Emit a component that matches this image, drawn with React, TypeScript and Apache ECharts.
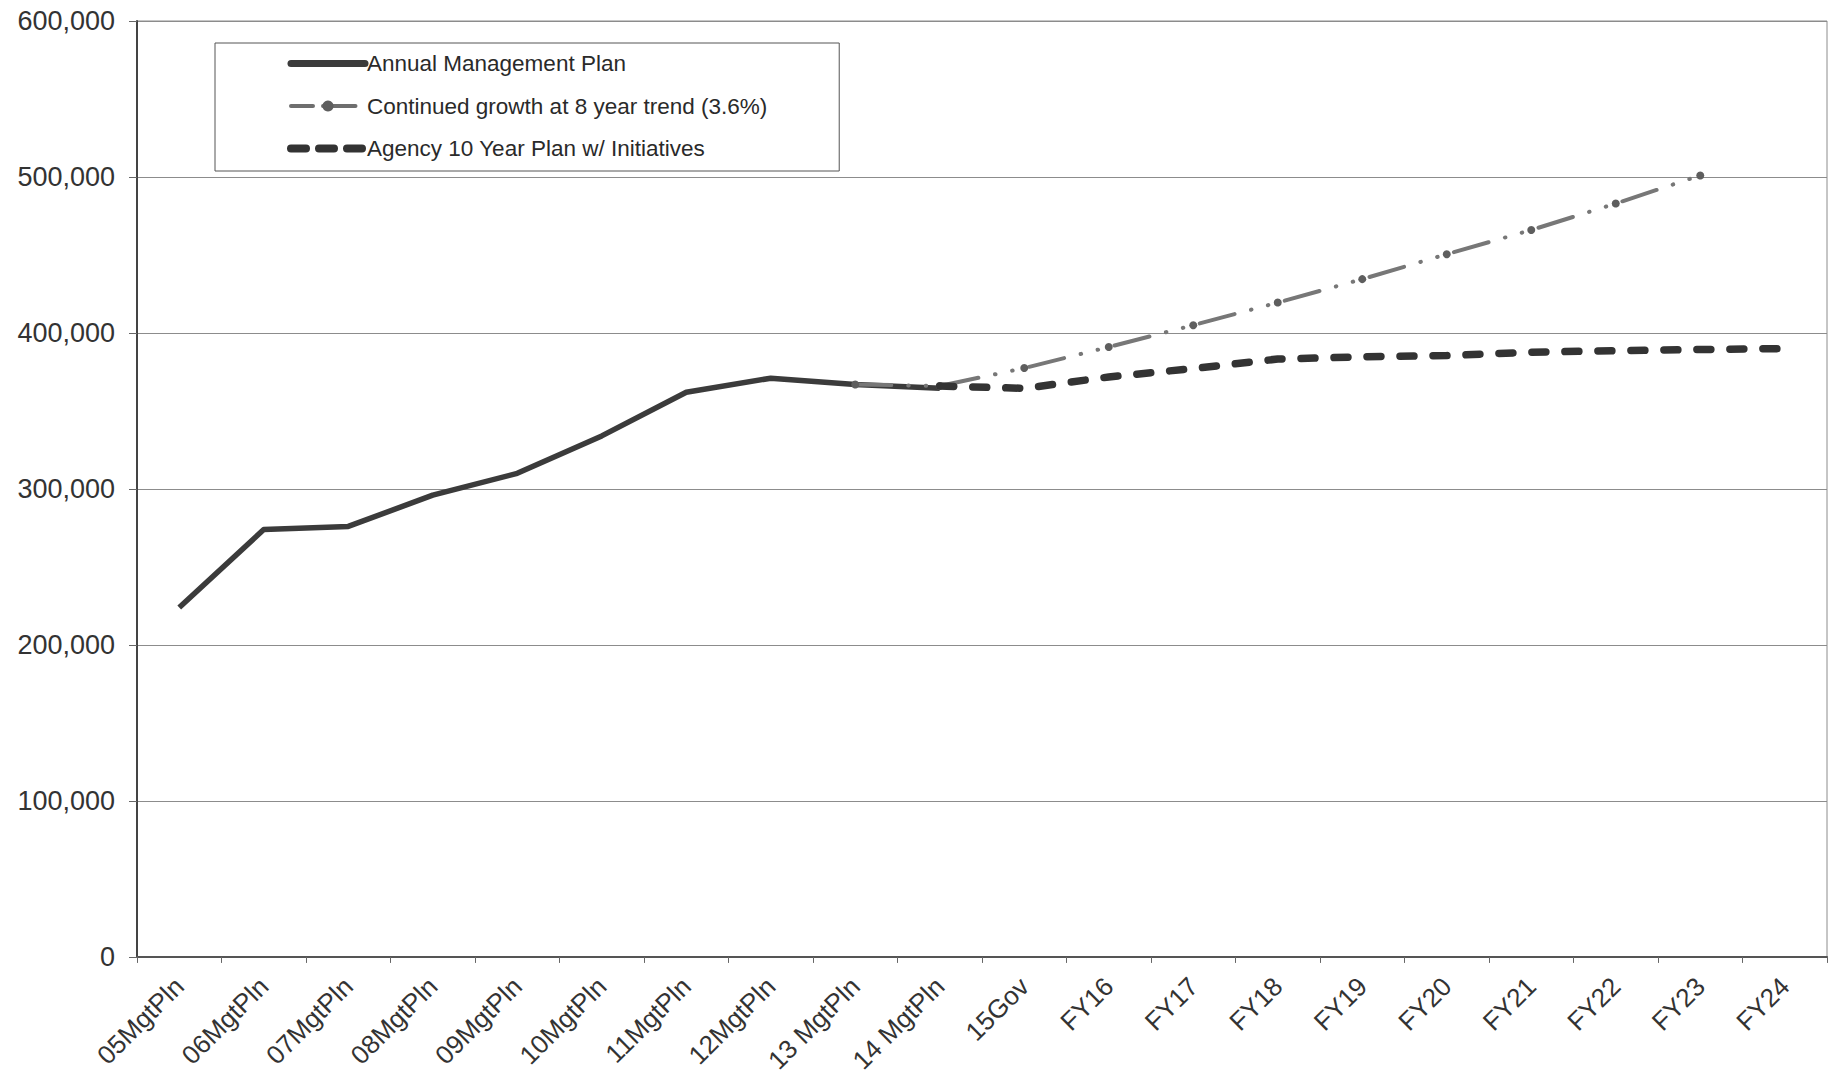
import React, { useEffect, useRef } from "react";
import * as echarts from "echarts";

const categories = [
  "05MgtPln", "06MgtPln", "07MgtPln", "08MgtPln", "09MgtPln", "10MgtPln",
  "11MgtPln", "12MgtPln", "13 MgtPln", "14 MgtPln", "15Gov", "FY16", "FY17",
  "FY18", "FY19", "FY20", "FY21", "FY22", "FY23", "FY24",
];

const annualPlan = [
  224000, 274000, 276000, 296000, 310000, 334000, 362000, 371000, 367000, 364500,
  null, null, null, null, null, null, null, null, null, null,
];

const growthTrend = [
  null, null, null, null, null, null, null, null, 367000, 366000,
  377500, 391000, 405000, 419500, 434500, 450500, 466000, 483000, 501000, null,
];

const agencyPlan = [
  null, null, null, null, null, null, null, null, null, 366000,
  364500, 371800, 377200, 383300, 384700, 385500, 387700, 388600, 389400, 390000,
];

const seriesNames = [
  "Annual Management Plan",
  "Continued growth at 8 year trend (3.6%)",
  "Agency 10 Year Plan w/ Initiatives",
];

const yTicks = { min: 0, max: 600000, interval: 100000 };

const FONT = "'Liberation Sans', Arial, Helvetica, sans-serif";

export default function App() {
  const ref = useRef<HTMLDivElement>(null);

  useEffect(() => {
    if (!ref.current) return;
    const chart = echarts.init(ref.current, undefined, { renderer: "svg" });
    const growthDash = [36, 17, 0.5, 17, 0.5, 17];
    const agencyDash = [14, 19];
    chart.setOption({
      animation: false,
      backgroundColor: "#ffffff",
      textStyle: { fontFamily: FONT },
      grid: {
        left: 137,
        right: 4,
        top: 21,
        bottom: 113,
        show: true,
        borderColor: "#8c8c8c",
        borderWidth: 1,
        backgroundColor: "transparent",
      },
      legend: {
        show: true,
        orient: "vertical",
        left: 215,
        top: 43,
        padding: [9, 72, 11, 72],
        itemGap: 19.5,
        itemWidth: 74,
        itemHeight: 14,
        borderColor: "#555",
        borderWidth: 1,
        backgroundColor: "#ffffff",
        textStyle: { fontSize: 22.5, color: "#2a2a2a", fontFamily: FONT, padding: [0, 0, 0, -3] },
        data: [
          {
            name: seriesNames[0],
            lineStyle: { width: 7, color: "#3b3b3b", type: "solid", cap: "round" },
            itemStyle: { color: "#3b3b3b", opacity: 0 },
          },
          {
            name: seriesNames[1],
            lineStyle: { width: 4, color: "#6e6e6e", type: [22, 10, 0.5, 10], cap: "round" },
            itemStyle: { color: "#5e5e5e" },
          },
          {
            name: seriesNames[2],
            lineStyle: { width: 8, color: "#333333", type: [15, 13], cap: "round" },
            itemStyle: { color: "#333333", opacity: 0 },
          },
        ],
      },
      xAxis: {
        type: "category",
        data: categories,
        boundaryGap: true,
        axisLine: { show: true, lineStyle: { color: "#555", width: 2 } },
        axisTick: { show: true, length: 6, lineStyle: { color: "#666", width: 1 } },
        axisLabel: {
          rotate: 45,
          interval: 0,
          margin: 25,
          fontSize: 26,
          color: "#333",
          fontFamily: FONT,
        },
        splitLine: { show: false },
      },
      yAxis: {
        type: "value",
        min: yTicks.min,
        max: yTicks.max,
        interval: yTicks.interval,
        axisLine: { show: true, lineStyle: { color: "#444", width: 2 } },
        axisTick: { show: true, inside: false, length: 8, lineStyle: { color: "#666", width: 1 } },
        axisLabel: {
          margin: 22,
          fontSize: 27,
          color: "#333",
          fontFamily: FONT,
          formatter: (v: number) => v.toLocaleString("en-US"),
        },
        splitLine: { show: true, lineStyle: { color: "#8c8c8c", width: 1 } },
      },
      series: [
        {
          name: seriesNames[0],
          type: "line",
          data: annualPlan,
          symbol: "none",
          connectNulls: false,
          lineStyle: { color: "#3b3b3b", width: 5.5, join: "round" },
          itemStyle: { color: "#3b3b3b" },
          z: 2,
        },
        {
          name: seriesNames[1],
          type: "line",
          data: growthTrend,
          symbol: "circle",
          symbolSize: 8,
          showSymbol: true,
          lineStyle: { color: "#777777", width: 4, type: growthDash, cap: "round" },
          itemStyle: { color: "#5e5e5e" },
          z: 3,
        },
        {
          name: seriesNames[2],
          type: "line",
          data: agencyPlan,
          symbol: "none",
          lineStyle: { color: "#333333", width: 7.5, type: agencyDash, cap: "round" },
          itemStyle: { color: "#333333" },
          z: 4,
        },
      ],
    });
    return () => chart.dispose();
  }, []);

  return (
    <div
      ref={ref}
      style={{ position: "fixed", left: 0, top: 0, width: 1831, height: 1076, background: "#fff" }}
    />
  );
}
